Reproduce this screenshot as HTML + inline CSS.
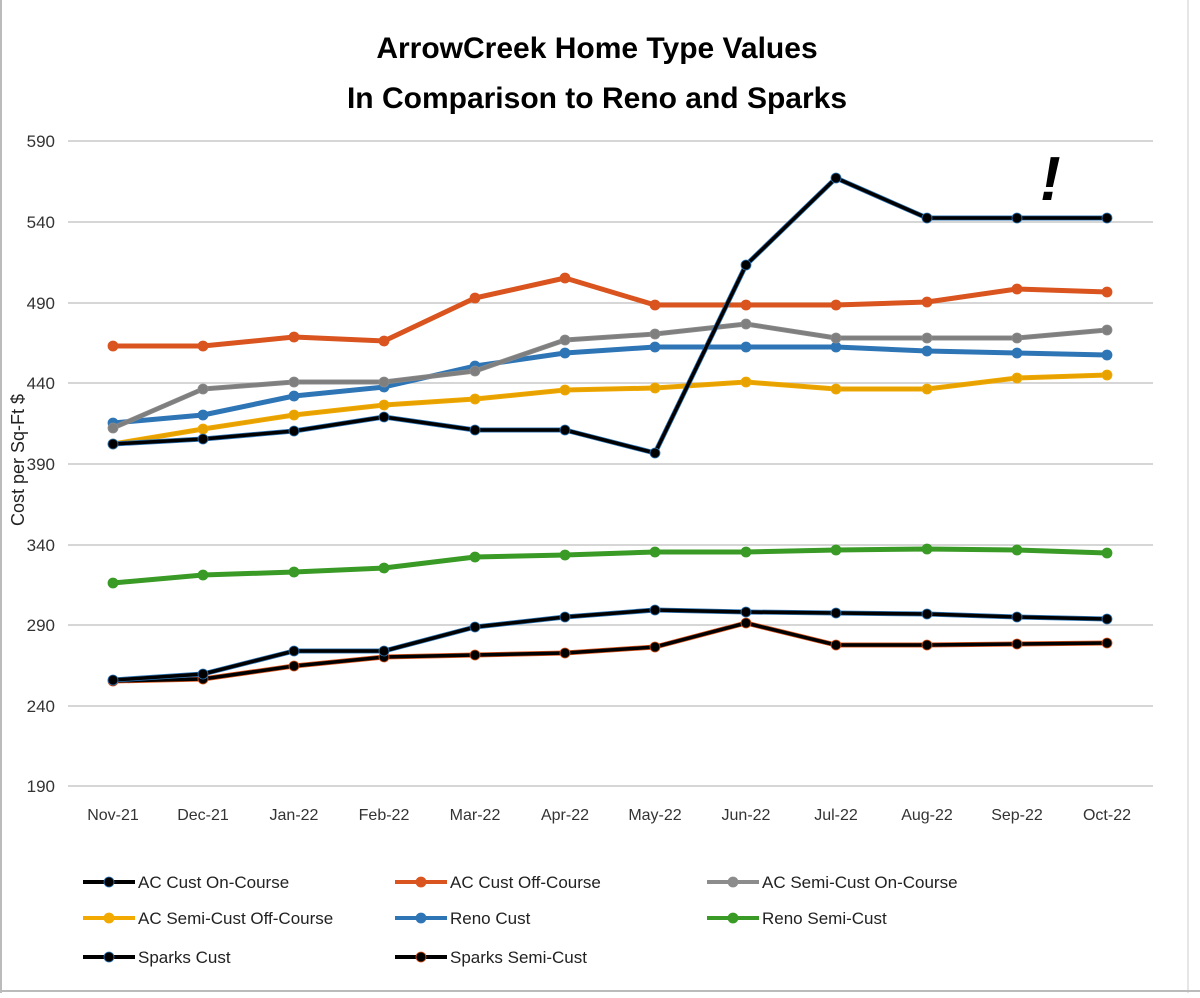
<!DOCTYPE html>
<html><head><style>
html,body{margin:0;padding:0;background:#fff;}
svg text{font-family:"Liberation Sans",sans-serif;}
</style></head><body>
<svg width="1200" height="993" viewBox="0 0 1200 993" xmlns="http://www.w3.org/2000/svg">
<rect x="0" y="0" width="1200" height="993" fill="#fff"/>
<line x1="1" y1="0" x2="1" y2="993" stroke="#bbb" stroke-width="2"/>
<line x1="1188" y1="0" x2="1188" y2="993" stroke="#ccc" stroke-width="1"/>
<line x1="0" y1="991" x2="1200" y2="991" stroke="#bbb" stroke-width="2"/>
<text x="597" y="58" font-size="30" font-weight="bold" text-anchor="middle" fill="#000">ArrowCreek Home Type Values</text>
<text x="597" y="108" font-size="30" font-weight="bold" text-anchor="middle" fill="#000">In Comparison to Reno and Sparks</text>
<g stroke="#c8c8c8" stroke-width="1.5">
<line x1="68" y1="141" x2="1153" y2="141"/>
<line x1="68" y1="222" x2="1153" y2="222"/>
<line x1="68" y1="303" x2="1153" y2="303"/>
<line x1="68" y1="383" x2="1153" y2="383"/>
<line x1="68" y1="464" x2="1153" y2="464"/>
<line x1="68" y1="545" x2="1153" y2="545"/>
<line x1="68" y1="625" x2="1153" y2="625"/>
<line x1="68" y1="706" x2="1153" y2="706"/>
<line x1="68" y1="786" x2="1153" y2="786"/>
</g>
<g font-size="17" fill="#333" text-anchor="end">
<text x="55" y="147">590</text><text x="55" y="228">540</text><text x="55" y="309">490</text>
<text x="55" y="389">440</text><text x="55" y="470">390</text><text x="55" y="551">340</text>
<text x="55" y="631">290</text><text x="55" y="712">240</text><text x="55" y="792">190</text>
</g>
<text transform="translate(24,460) rotate(-90)" font-size="18" fill="#222" text-anchor="middle">Cost per Sq-Ft $</text>
<g font-size="16" fill="#333" text-anchor="middle">
<text x="113" y="820">Nov-21</text><text x="203" y="820">Dec-21</text><text x="294" y="820">Jan-22</text>
<text x="384" y="820">Feb-22</text><text x="475" y="820">Mar-22</text><text x="565" y="820">Apr-22</text>
<text x="655" y="820">May-22</text><text x="746" y="820">Jun-22</text><text x="836" y="820">Jul-22</text>
<text x="927" y="820">Aug-22</text><text x="1017" y="820">Sep-22</text><text x="1107" y="820">Oct-22</text>
</g>
<text x="1040" y="200" font-size="62" font-weight="bold" font-style="italic" fill="#000" font-family="Liberation Serif,serif">!</text>
<g id="series" stroke-linejoin="round"></g>
<g id="legend"></g>
<script>
const xs=[113,203,294,384,475,565,655,746,836,927,1017,1107];
const S=[
["#2E75B6","#2E75B6",[423,415,396,387,366,353,347,347,347,351,353,355]],
["#7f7f7f","#8C8C8C",[428,389,382,382,371,340,334,324,338,338,338,330]],
["#E8A200","#F2A900",[444,429,415,405,399,390,388,382,389,389,378,375]],
["#D9541E","#D9541E",[346,346,337,341,298,278,305,305,305,302,289,292]],
["#3A9A26","#3A9A26",[583,575,572,568,557,555,552,552,550,549,550,553]],
["#000","#D9541E",[681,679,666,657,655,653,647,623,645,645,644,643]],
["#000","#2E75B6",[680,674,651,651,627,617,610,612,613,614,617,619]],
["#000","#2E75B6",[444,439,431,417,430,430,453,265,178,218,218,218]]
];
const ns="http://www.w3.org/2000/svg";
const g=document.getElementById("series");
function el(t,a,p){const e=document.createElementNS(ns,t);for(const k in a)e.setAttribute(k,a[k]);p.appendChild(e);return e;}
for(const [c,edge,ys] of S){
 const pts=ys.map((y,i)=>xs[i]+","+y).join(" ");
 el("polyline",{points:pts,fill:"none",stroke:edge,"stroke-width":5},g);
 el("polyline",{points:pts,fill:"none",stroke:c,"stroke-width":3.5},g);
 ys.forEach((y,i)=>el("circle",{cx:xs[i],cy:y,r:5,fill:c,stroke:edge,"stroke-width":0.8},g));
}
const L=[
["#000","#2E75B6","AC Cust On-Course",83,882],["#D9541E","#D9541E","AC Cust Off-Course",395,882],["#8C8C8C","#8C8C8C","AC Semi-Cust On-Course",707,882],
["#F2A900","#F2A900","AC Semi-Cust Off-Course",83,918],["#2E75B6","#2E75B6","Reno Cust",395,918],["#3A9A26","#3A9A26","Reno Semi-Cust",707,918],
["#000","#2E75B6","Sparks Cust",83,957],["#000","#D9541E","Sparks Semi-Cust",395,957]];
const lg=document.getElementById("legend");
for(const [c,e,t,x,y] of L){
 el("line",{x1:x,y1:y,x2:x+52,y2:y,stroke:c,"stroke-width":4},lg);
 el("circle",{cx:x+26,cy:y,r:5,fill:c,stroke:e,"stroke-width":0.8},lg);
 const tx=el("text",{x:x+55,y:y+6,"font-size":17,fill:"#222"},lg);tx.textContent=t;
}
</script>
</svg>
</body></html>
